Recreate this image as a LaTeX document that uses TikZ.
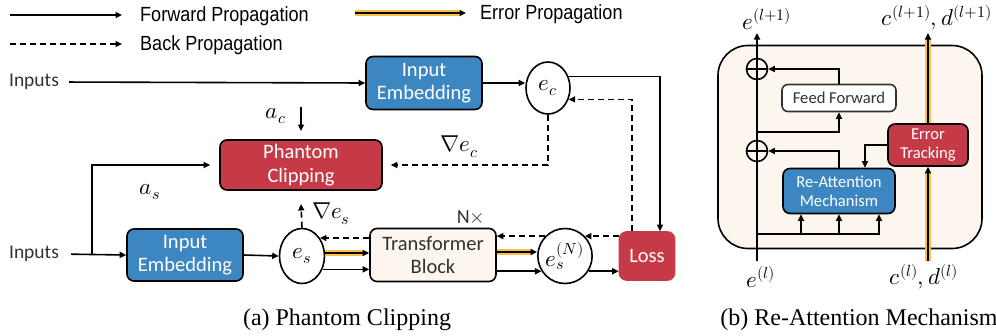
\documentclass[tikz,border=0pt]{standalone}
\usepackage{fontspec}
\usepackage{unicode-math}
\setmathfont{Latin Modern Math}
\usetikzlibrary{shapes.geometric,arrows.meta,calc}
\newfontfamily\legfont{Liberation Sans}[FakeStretch=0.88]
\newfontfamily\calf{Carlito}
\newfontfamily\capfont{Liberation Serif}
\definecolor{boxblue}{RGB}{60,135,193}
\definecolor{boxred}{RGB}{198,58,72}
\definecolor{cream}{RGB}{253,246,238}
\definecolor{errorange}{RGB}{251,190,70}
\definecolor{darktxt}{RGB}{50,50,50}
\tikzset{
  arr/.style={-{Triangle[length=6.5pt,width=6pt]}},
  fwd/.style={draw, line width=1.6pt, arr},
  bwd/.style={draw, line width=1.6pt, dash pattern=on 6pt off 4pt, arr},
  err/.style={draw, line width=1.6pt, arr, preaction={draw=errorange, line width=6.5pt, -, shorten >=5pt}},
  boxbase/.style={line width=1.6pt, align=center, inner sep=0pt, font=\calf\fontsize{20.5}{23.5}\selectfont},
  bluebox/.style={boxbase, draw, fill=boxblue, rounded corners=7pt, text=white},
  redbox/.style={boxbase, draw, fill=boxred, rounded corners=7pt, text=white},
  creambox/.style={boxbase, draw, fill=cream, rounded corners=7pt, text=darktxt},
  ellnode/.style={ellipse, draw, line width=1.6pt, fill=white, inner sep=0pt, font=\fontsize{23}{25}\selectfont},
  lbl/.style={inner sep=0pt, font=\fontsize{23}{25}\selectfont},
  legtxt/.style={inner sep=0pt, anchor=west, font=\legfont\fontsize{20.5}{22}\selectfont},
  intxt/.style={inner sep=0pt, font=\calf\fontsize{19.5}{22}\selectfont, text=darktxt},
  captxt/.style={inner sep=0pt, font=\capfont\fontsize{24}{26}\selectfont},
  smallbox/.style={line width=1.6pt, align=center, inner sep=0pt, font=\calf\fontsize{16.6}{19}\selectfont},
  oplus/.style={circle, draw, line width=1.6pt, minimum size=21pt, inner sep=0pt, fill=cream},
}
\begin{document}
\begin{tikzpicture}[x=1pt,y=-1pt]
\useasboundingbox (0,0) rectangle (996,335);
% ---------------- legend
\coordinate (lf1) at (10,15); \coordinate (lf2) at (122,15);
\draw[fwd] (lf1) -- (lf2);
\node[legtxt] (lft) at (140,16) {Forward Propagation};
\coordinate (lb1) at (10,44); \coordinate (lb2) at (122,44);
\draw[bwd] (lb1) -- (lb2);
\node[legtxt] (lbt) at (140,45) {Back Propagation};
\coordinate (le1) at (355,13); \coordinate (le2) at (466,13);
\draw[err] (le1) -- (le2);
\node[legtxt] (let) at (480,14) {Error Propagation};
% ---------------- panel (a)
\node[intxt] (in1) at (34,82) {Inputs};
\node[bluebox, minimum width=116pt, minimum height=53pt] (ie1) at (424,83) {Input\\Embedding};
\node[ellnode, minimum width=44pt, minimum height=52pt] (ec) at (548,88) {$e_c$};
\draw[fwd, shorten <=10pt] (in1.east) -- (ie1.west);
\draw[fwd] (ie1.east) -- (ie1.east -| ec.west);

\node[redbox, minimum width=162pt, minimum height=50pt] (pc) at (301,165) {Phantom\\Clipping};
\coordinate (ac1) at (301,107); \coordinate (ac2) at (301,131);
\draw[fwd] (ac1) -- (ac2);
\node[lbl] (aclbl) at (276,116) {$a_c$};

\node[intxt] (in2) at (34,254) {Inputs};
\node[bluebox, minimum width=116pt, minimum height=52pt] (ie2) at (185,255) {Input\\Embedding};
\node[ellnode, minimum width=45pt, minimum height=55pt] (es) at (302,256) {$e_s$};
\node[creambox, minimum width=126pt, minimum height=53pt] (tb) at (433,255) {Transformer\\Block};
\node[ellnode, minimum width=45pt, minimum height=55pt] (esn) at (565,256) {$e_s^{(N)}$};
\node[boxbase, fill=boxred, draw=boxred, rounded corners=7pt, text=white, minimum width=55pt, minimum height=48pt] (loss) at (647,256) {Loss};

\draw[fwd, shorten <=12pt] (in2.east) -- (ie2.west);
\coordinate (asb) at (92,255);
\draw[fwd, shorten >=9pt] (asb) |- (pc.west);
\node[lbl] (aslbl) at (150,192) {$a_s$};
\draw[fwd] (ie2.east) -- (es.west);

\draw[bwd] (tb.west |- es.45) -- (es.45);
\draw[err] ([yshift=3pt]es.east) -- ([yshift=3pt]es.east -| tb.west);
\draw[fwd] (es.-33) -- (es.-33 -| tb.west);

\draw[bwd] (esn.135) -- (esn.135 -| tb.east);
\draw[err] ([yshift=3pt]tb.east) -- ([yshift=3pt]tb.east -| esn.west);
\draw[fwd] (tb.east |- esn.-147) -- (esn.-147);

\draw[bwd] (loss.west |- esn.45) -- (esn.45);
\draw[fwd] (esn.-33) -- (esn.-33 -| loss.west);

\coordinate (lossin) at ([xshift=13pt]loss.north);
\coordinate (lossout) at ([xshift=-15pt]loss.north);
\draw[fwd] (ec.29) -| (lossin);
\draw[bwd] (lossout) |- (ec.-29);
\draw[bwd, shorten >=8pt] (ec.south) |- (pc.east);
\node[lbl] (gec) at (459,147) {$\nabla e_c$};

\coordinate (gest) at (301,204);
\draw[bwd] (es.north) -- (gest);
\node[lbl] (ges) at (331,214) {$\nabla e_s$};
\node[inner sep=0pt, font=\calf\fontsize{20}{22}\selectfont, text=darktxt] (nx) at (471,217) {N$\times$};

\node[captxt] (capa) at (347,320) {(a) Phantom Clipping};

% ---------------- panel (b)
\node[draw, line width=1.6pt, fill=cream, rounded corners=30pt, minimum width=264pt, minimum height=203pt] (blk) at (850,147) {};
\coordinate (eb) at (757,261); \coordinate (et) at (757,33);
\node[oplus] (p1) at (757,69) {};
\node[oplus] (p2) at (757,151) {};
\draw[fwd] (eb) -- (et);
\draw[line width=1.6pt] (p1.west) -- (p1.east);
\draw[line width=1.6pt] (p2.west) -- (p2.east);

\node[smallbox, draw=darktxt, fill=white, text=darktxt, rounded corners=6pt, minimum width=114pt, minimum height=27pt] (ff) at (839,98) {Feed Forward};
\node[smallbox, draw, fill=boxblue, text=white, rounded corners=7pt, minimum width=112pt, minimum height=45pt] (ra) at (839,191) {Re-Attention\\Mechanism};
\node[smallbox, draw, fill=boxred, text=white, rounded corners=7pt, minimum width=80pt, minimum height=42pt] (etk) at (928,145) {Error\\Tracking};

\draw[fwd] (ff.north) |- (p1.east);
\coordinate (b1) at (757,132);
\draw[fwd] (b1) -| (ff.south);
\draw[fwd] (ra.north) |- (p2.east);
\coordinate (raet) at ([xshift=26pt]ra.north);
\draw[fwd] (etk.west) -| (raet);

\coordinate (b2) at (757,234);
\coordinate (r1) at ([xshift=-38pt]ra.south);
\coordinate (r3) at ([xshift=40pt]ra.south);
\draw[fwd] (b2) -| (r3);
\draw[fwd] (b2 -| r1) -- (r1);
\draw[fwd] (b2 -| ra.south) -- (ra.south);

\coordinate (ob) at (928,261); \coordinate (ot) at (928,33);
\draw[err] (ob) -- (etk.south);
\draw[err] (etk.north) -- (ot);

\node[lbl] (elp) at (767,19) {$e^{(l+1)}$};
\node[lbl] (cdp) at (937,18) {$c^{(l+1)},d^{(l+1)}$};
\node[lbl] (el) at (761,277) {$e^{(l)}$};
\node[lbl] (cd) at (924,277) {$c^{(l)},d^{(l)}$};

\node[captxt] (capb) at (859,320) {(b) Re-Attention Mechanism};
\end{tikzpicture}
\end{document}
